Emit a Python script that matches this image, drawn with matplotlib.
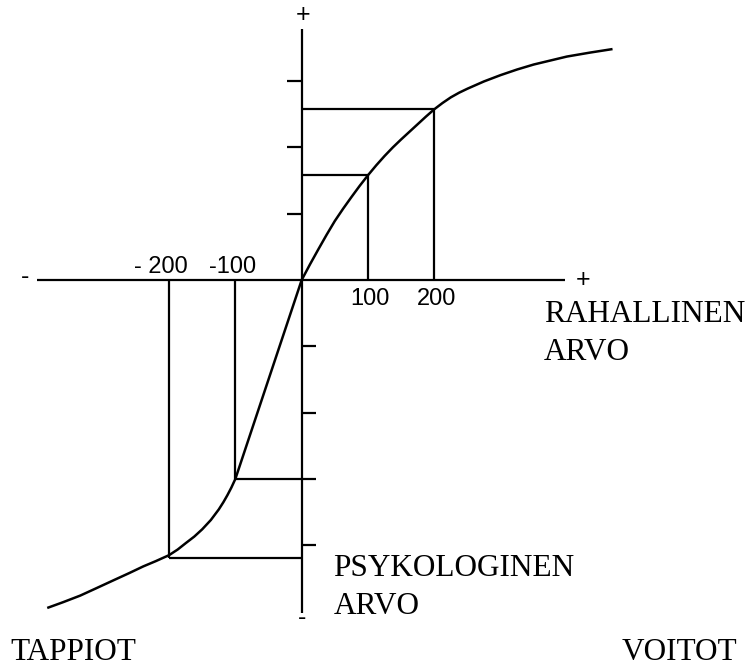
import matplotlib
matplotlib.use("Agg")
import matplotlib.pyplot as plt

# Value-function curve (money value -> psychological value)
gain_x = [0, 12.5, 25, 37.5, 50, 62.5, 75, 87.5, 100, 112.5, 125, 137.5, 150, 162.5, 175, 187.5,
          200, 212.5, 225, 237.5, 250, 275, 300, 325, 350, 375, 400, 435, 467]
gain_v = [0, 0.235, 0.46, 0.68, 0.89, 1.075, 1.25, 1.42, 1.58, 1.73, 1.87, 2.0, 2.12, 2.235, 2.35, 2.465,
          2.575, 2.67, 2.755, 2.825, 2.885, 2.995, 3.09, 3.175, 3.25, 3.31, 3.37, 3.43, 3.48]
loss_x = [-382, -360, -334, -310, -284, -260, -239, -220, -200, -187, -175, -162, -150, -137, -125,
          -118, -112, -106, -100, -75, -50, -25, 0]
loss_v = [-4.94, -4.86, -4.76, -4.65, -4.53, -4.42, -4.32, -4.24, -4.15, -4.065, -3.97, -3.87, -3.76,
          -3.62, -3.46, -3.35, -3.245, -3.13, -3.0, -2.25, -1.5, -0.75, 0]

# Guide lines drawn from the x-axis to the curve and across to the y-axis
guide_x = [-200, -100, 100, 200]
guide_v = [-4.19, -3.0, 1.58, 2.575]

# Axis ticks
xtick_vals = [-200, -100, 100, 200]
xtick_labels = ["- 200", "-100", "100", "200"]
ytick_pos = [1, 2, 3]
ytick_neg = [-1, -2, -3, -4]

LW = 1.6
fig = plt.figure(figsize=(7.5, 6.68), dpi=100)
ax = fig.add_axes([0, 0, 1, 1])
ax.set_xlim(-455, 676.2)
ax.set_ylim(-5.852, 4.223)
ax.axis("off")

# axes lines
ax.plot([-399, 397], [0, 0], color="black", lw=LW, solid_capstyle="butt")
ax.plot([0, 0], [-5.02, 3.78], color="black", lw=LW, solid_capstyle="butt")

# ticks on y axis
for t in ytick_pos:
    ax.plot([-22, 0], [t, t], color="black", lw=LW, solid_capstyle="butt")
for t in ytick_neg:
    ax.plot([0, 22], [t, t], color="black", lw=LW, solid_capstyle="butt")

# guide lines
for gx, gv in zip(guide_x, guide_v):
    ax.plot([gx, gx], [0, gv], color="black", lw=LW, solid_capstyle="butt")
    ax.plot([0, gx], [gv, gv], color="black", lw=LW, solid_capstyle="butt")

# curve
ax.plot(loss_x + gain_x[1:], loss_v + gain_v[1:], color="black", lw=LW + 0.2,
        solid_joinstyle="round")

sans = ["Liberation Sans", "DejaVu Sans"]
serif = ["Liberation Serif", "DejaVu Serif"]

# tick labels
for xv, lab in zip(xtick_vals, xtick_labels):
    yb = 0.10 if xv < 0 else -0.377
    xc = xv - 13 if xv == -200 else (xv - 4 if xv == -100 else xv + 3)
    ax.text(xc, yb, lab, ha="center", va="baseline", fontsize=17, family=sans)

# +/- signs at axis ends
ax.text(2, 4.0, "+", ha="center", va="center", fontsize=18, family=sans)
ax.text(424, 0.0, "+", ha="center", va="center", fontsize=18, family=sans)
ax.text(-417, 0.05, "-", ha="center", va="center", fontsize=18, family=sans)
ax.text(0, -5.1, "-", ha="center", va="center", fontsize=18, family=sans)

# labels
fs = 22.5
ax.text(365.5, -0.633, "RAHALLINEN", ha="left", va="baseline", fontsize=fs, family=serif)
ax.text(365.5, -1.207, "ARVO", ha="left", va="baseline", fontsize=fs, family=serif)
ax.text(48, -4.465, "PSYKOLOGINEN", ha="left", va="baseline", fontsize=fs, family=serif)
ax.text(48, -5.04, "ARVO", ha="left", va="baseline", fontsize=fs, family=serif)
ax.text(-440, -5.73, "TAPPIOT", ha="left", va="baseline", fontsize=fs, family=serif)
ax.text(483, -5.73, "VOITOT", ha="left", va="baseline", fontsize=fs, family=serif)

fig.savefig("out.png", dpi=100)
